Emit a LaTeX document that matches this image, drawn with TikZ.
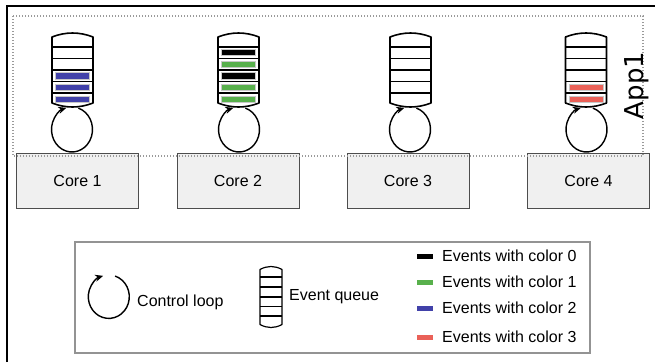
\documentclass[tikz,border=0pt]{standalone}
\usepackage{fontspec}
\setmainfont{Liberation Sans}
\newfontfamily\appfont{DejaVu Sans}
\usetikzlibrary{arrows.meta}

\definecolor{evgreen}{HTML}{58B04C}
\definecolor{evblue}{HTML}{4141A9}
\definecolor{evred}{HTML}{EA6158}
\definecolor{corefill}{HTML}{F0F0F0}
\definecolor{coreedge}{HTML}{4D4D4D}
\definecolor{dotgray}{HTML}{9A9A9A}
\definecolor{legendedge}{HTML}{939393}

\tikzset{
  frame/.style={line width=2pt, black},
  corebox/.style={draw=coreedge, fill=corefill, line width=1pt,
    minimum width=122pt, minimum height=55pt, inner sep=0pt,
    font=\fontsize{16}{19}\selectfont},
  appbox/.style={draw=dotgray, line width=1.3pt, dash pattern=on 1.3pt off 1.7pt},
  qline/.style={line width=1.6pt, black, line join=round},
  lqline/.style={line width=1.2pt, black, line join=round},
  loopline/.style={line width=1.4pt, black, -{Stealth[length=8pt,width=7pt]}},
  evbar/.style={draw=black!22, line width=0.8pt},
  lbl/.style={inner sep=0pt, font=\fontsize{16}{19}\selectfont},
  legendbox/.style={draw=legendedge, line width=1.5pt},
  swatch/.style={line width=5pt},
}

% queue outline: centre x, half width, top corner y, bottom corner y, bulge
\newcommand\qshape[6]{%
  \filldraw[#6, fill=white]
    ({#1-#2},#3) .. controls ({#1-#2/3},{#3+#5*4/3}) and ({#1+#2/3},{#3+#5*4/3}) .. ({#1+#2},#3)
    -- ({#1+#2},#4) .. controls ({#1+#2/3},{#4-#5*4/3}) and ({#1-#2/3},{#4-#5*4/3}) .. ({#1-#2},#4)
    -- cycle;}
% large queue with its compartment lines
\newcommand\evqueue[1]{%
  \qshape{#1}{20.5}{-37}{-103}{4}{qline}
  \foreach \yy in {-47,-58.5,-70,-81.5,-93}
    \draw[qline] ({#1-20.5},\yy) -- ({#1+20.5},\yy);}
% one queued event
\newcommand\evbarat[3]{%
  \filldraw[evbar, fill=#3] ({#1-17},{#2-3.3}) rectangle ({#1+17},{#2+3.3});}
% control loop: centre x, centre y, x radius, y radius
\newcommand\ctlloop[4]{%
  \draw[loopline] ({#1+#3*cos(72)},{#2+#4*sin(72)})
    arc[start angle=72, end angle=-254, x radius=#3, y radius=#4];}

\begin{document}
\begin{tikzpicture}[x=1pt, y=1pt]
\useasboundingbox (0,0) rectangle (655,-362);

% outer frame
\draw[frame] (7,-362) -- (7,-6) -- (655,-6);

% cores
\node[corebox] (core1) at (77.5,-180.5) {Core 1};
\node[corebox] (core2) at (238,-180.5) {Core 2};
\node[corebox] (core3) at (408,-180.5) {Core 3};
\node[corebox] (core4) at (588.5,-180.5) {Core 4};

% application area
\draw[appbox] (13,-16) rectangle (643,-156);
\node[rotate=90, anchor=base, inner sep=0pt, font=\appfont\fontsize{26}{30}\selectfont]
  (app) at (643,-85.5) {App1};

% control loops
\ctlloop{72}{-129.5}{20.5}{22.5}
\ctlloop{239}{-129.5}{20.5}{22.5}
\ctlloop{410}{-129.5}{20.5}{22.5}
\ctlloop{586.5}{-129.5}{20.5}{22.5}

% event queues
\evqueue{72.5}
\evbarat{72.5}{-75.75}{evblue}
\evbarat{72.5}{-87.25}{evblue}
\evbarat{72.5}{-99.3}{evblue}

\evqueue{238.5}
\evbarat{238.5}{-52.5}{black}
\evbarat{238.5}{-64.25}{evgreen}
\evbarat{238.5}{-75.75}{black}
\evbarat{238.5}{-87.25}{evgreen}
\evbarat{238.5}{-99.3}{evgreen}

\evqueue{410.5}

\evqueue{586}
\evbarat{586}{-87.25}{evred}
\evbarat{586}{-99.3}{evred}

% legend
\draw[legendbox] (75,-242) rectangle (590,-353);
\ctlloop{108.8}{-296.7}{20.5}{21.7}
\node[lbl, anchor=west] (loopkey) at (137,-302) {Control loop};
\qshape{271}{11}{-269.5}{-324.5}{3}{lqline}
\foreach \yy in {-277,-287,-297,-306.5,-316}
  \draw[lqline] (260,\yy) -- (282,\yy);
\node[lbl, anchor=west] (queuekey) at (289,-297) {Event queue};

\draw[swatch, black]    (417,-256) -- (433,-256);
\draw[swatch, evgreen]  (417,-282) -- (433,-282);
\draw[swatch, evblue]   (417,-308) -- (433,-308);
\draw[swatch, evred]    (417,-337) -- (433,-337);
\node[lbl, anchor=west] (col0) at (442,-256) {Events with color 0};
\node[lbl, anchor=west] (col1) at (442,-282) {Events with color 1};
\node[lbl, anchor=west] (col2) at (442,-308) {Events with color 2};
\node[lbl, anchor=west] (col3) at (442,-337) {Events with color 3};
\end{tikzpicture}
\end{document}
